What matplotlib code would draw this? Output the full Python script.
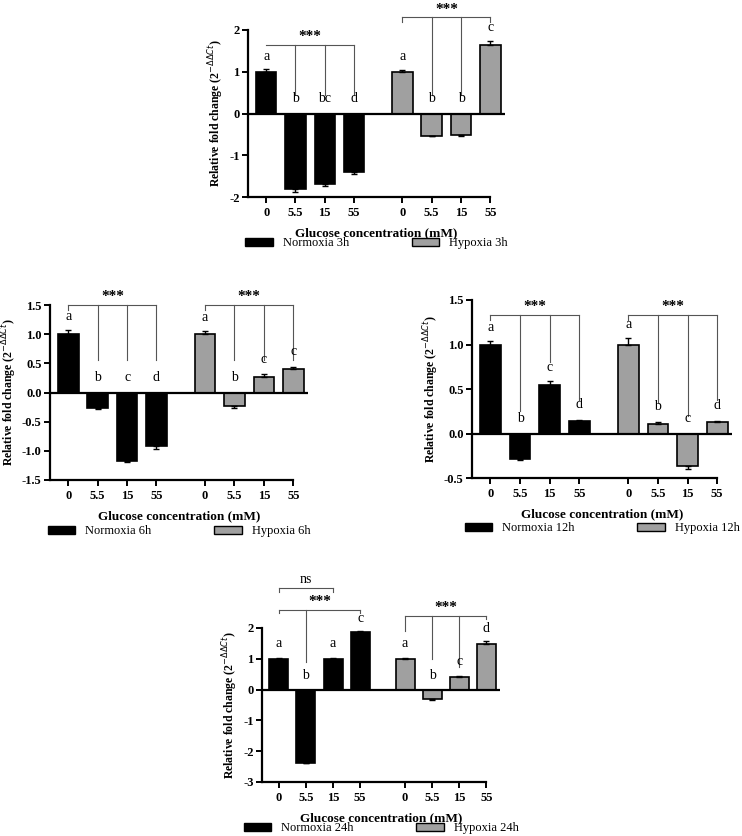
import matplotlib.pyplot as plt
import numpy as np

plt.rcParams['font.family'] = 'Liberation Serif'

glucose = ["0", "5.5", "15", "55"]

norm_3h = [1.0, -1.80, -1.68, -1.40]
norm_3h_err = [0.06, 0.08, 0.05, 0.06]
hyp_3h = [1.0, -0.53, -0.52, 1.65]
hyp_3h_err = [0.04, 0.02, 0.03, 0.09]
let_3h = ["a", "b", "bc", "d", "a", "b", "b", "c"]

norm_6h = [1.0, -0.26, -1.18, -0.92]
norm_6h_err = [0.07, 0.02, 0.01, 0.05]
hyp_6h = [1.0, -0.23, 0.27, 0.41]
hyp_6h_err = [0.06, 0.04, 0.04, 0.03]
let_6h = ["a", "b", "c", "d", "a", "b", "c", "c"]

norm_12h = [1.0, -0.29, 0.55, 0.14]
norm_12h_err = [0.04, 0.01, 0.04, 0.01]
hyp_12h = [1.0, 0.11, -0.37, 0.13]
hyp_12h_err = [0.07, 0.02, 0.03, 0.01]
let_12h = ["a", "b", "c", "d", "a", "b", "c", "d"]

norm_24h = [1.0, -2.37, 0.98, 1.86]
norm_24h_err = [0.03, 0.02, 0.04, 0.03]
hyp_24h = [0.99, -0.32, 0.41, 1.49]
hyp_24h_err = [0.04, 0.01, 0.03, 0.08]
let_24h = ["a", "b", "a", "c", "a", "b", "c", "d"]

pos = np.array([0, 1, 2, 3, 4.65, 5.65, 6.65, 7.65])
fig = plt.figure(figsize=(7.42, 8.36), dpi=100)
W, H = 742.0, 836.0


def panel(rect, norm, nerr, hyp, herr, letters, ylim, yticks, yfmt, hours, brackets, leg_y):
    l, t, r, b = rect
    ax = fig.add_axes([l / W, 1 - b / H, (r - l) / W, (b - t) / H])
    vals = list(norm) + list(hyp)
    errs = list(nerr) + list(herr)
    cols = ["black"] * 4 + ["#a0a0a0"] * 4
    for x, v, e, c in zip(pos, vals, errs, cols):
        ax.bar(x, v, 0.7, color=c, edgecolor="black", linewidth=1.2, zorder=2)
        ax.errorbar(x, v, yerr=[[0], [e]] if v > 0 else [[e], [0]], color="black",
                    capsize=2.5, elinewidth=1, capthick=1, zorder=3)
    span = ylim[1] - ylim[0]
    for x, v, e, s in zip(pos, vals, errs, letters):
        y = v + e + 0.04 * span if v > 0.2 * span else max(v + e, 0) + 0.05 * span
        ax.text(x, y, s, ha="center", va="bottom", fontsize=10)
    ax.axhline(0, color="black", lw=1.6, zorder=4)
    for x0, x1, y, drops, lab in brackets:
        ax.plot([x0, x1], [y, y], color="#555555", lw=0.8, clip_on=False)
        for dx, dy in drops:
            ax.plot([dx, dx], [y, dy], color="#555555", lw=0.8, clip_on=False)
        ax.text((x0 + x1) / 2, y + 0.01 * span, lab, ha="center", va="bottom",
                fontsize=10 if lab == "ns" else 11, fontweight="normal" if lab == "ns" else "bold")
    ax.set_xlim(-0.62, 8.15)
    ax.set_ylim(*ylim)
    ax.set_yticks(yticks)
    ax.set_yticklabels([yfmt % v for v in yticks], fontweight="bold", fontsize=9)
    ax.set_xticks(pos)
    ax.set_xticklabels(glucose * 2, fontweight="bold", fontsize=9)
    for sp in ["top", "right"]:
        ax.spines[sp].set_visible(False)
    ax.spines["bottom"].set_bounds(-0.62, 7.65)
    for sp in ["left", "bottom"]:
        ax.spines[sp].set_linewidth(1.6)
    ax.tick_params(width=1.4, length=4)
    ax.tick_params(axis="y", pad=2)
    ax.set_xlabel("Glucose concentration (mM)", fontweight="bold", fontsize=9.5, labelpad=6)
    ax.set_ylabel("Relative fold change (2$^{-\\Delta\\Delta Ct}$)", fontweight="bold", fontsize=8.5,
                  labelpad=2)
    h1 = plt.Rectangle((0, 0), 1, 1, fc="black", ec="black")
    h2 = plt.Rectangle((0, 0), 1, 1, fc="#a0a0a0", ec="black")
    fig.legend([h1, h2], ["Normoxia %s" % hours, "Hypoxia %s" % hours], ncol=2, frameon=False,
               loc="center", bbox_to_anchor=((l + r) / 2 / W, 1 - leg_y / H), fontsize=9,
               columnspacing=5, handlelength=2.2, handleheight=0.6)
    return ax


panel((248, 30, 505, 197), norm_3h, norm_3h_err, hyp_3h, hyp_3h_err, let_3h, (-2, 2),
      [-2, -1, 0, 1, 2], "%g", "3h",
      [(0, 3, 1.65, [(1, 0.45), (2, 0.45), (3, 0.45)], "***"),
       (4.65, 7.65, 2.3, [(4.65, 2.18), (5.65, 0.45), (6.65, 0.45), (7.65, 2.18)], "***")], 243)

panel((50, 305, 308, 480), norm_6h, norm_6h_err, hyp_6h, hyp_6h_err, let_6h, (-1.5, 1.5),
      [-1.5, -1.0, -0.5, 0.0, 0.5, 1.0, 1.5], "%.1f", "6h",
      [(0, 3, 1.5, [(0, 1.42), (1, 0.55), (2, 0.55), (3, 0.55)], "***"),
       (4.65, 7.65, 1.5, [(4.65, 1.42), (5.65, 0.55), (6.65, 0.55), (7.65, 0.55)], "***")], 531)

panel((472, 300, 732, 478), norm_12h, norm_12h_err, hyp_12h, hyp_12h_err, let_12h, (-0.5, 1.5),
      [-0.5, 0.0, 0.5, 1.0, 1.5], "%.1f", "12h",
      [(0, 3, 1.33, [(0, 1.27), (1, 0.25), (2, 0.8), (3, 0.38)], "***"),
       (4.65, 7.65, 1.33, [(4.65, 1.27), (5.65, 0.35), (6.65, 0.2), (7.65, 0.38)], "***")], 528)

panel((262, 628, 500, 782), norm_24h, norm_24h_err, hyp_24h, hyp_24h_err, let_24h, (-3, 2),
      [-3, -2, -1, 0, 1, 2], "%g", "24h",
      [(0, 2, 3.3, [(0, 3.18), (2, 3.18)], "ns"),
       (0, 3, 2.6, [(0, 2.48), (1, 0.9), (3, 2.48)], "***"),
       (4.65, 7.65, 2.4, [(4.65, 1.9), (5.65, 1.0), (6.65, 0.75), (7.65, 2.28)], "***")], 828)

fig.savefig("out.png", dpi=100)
